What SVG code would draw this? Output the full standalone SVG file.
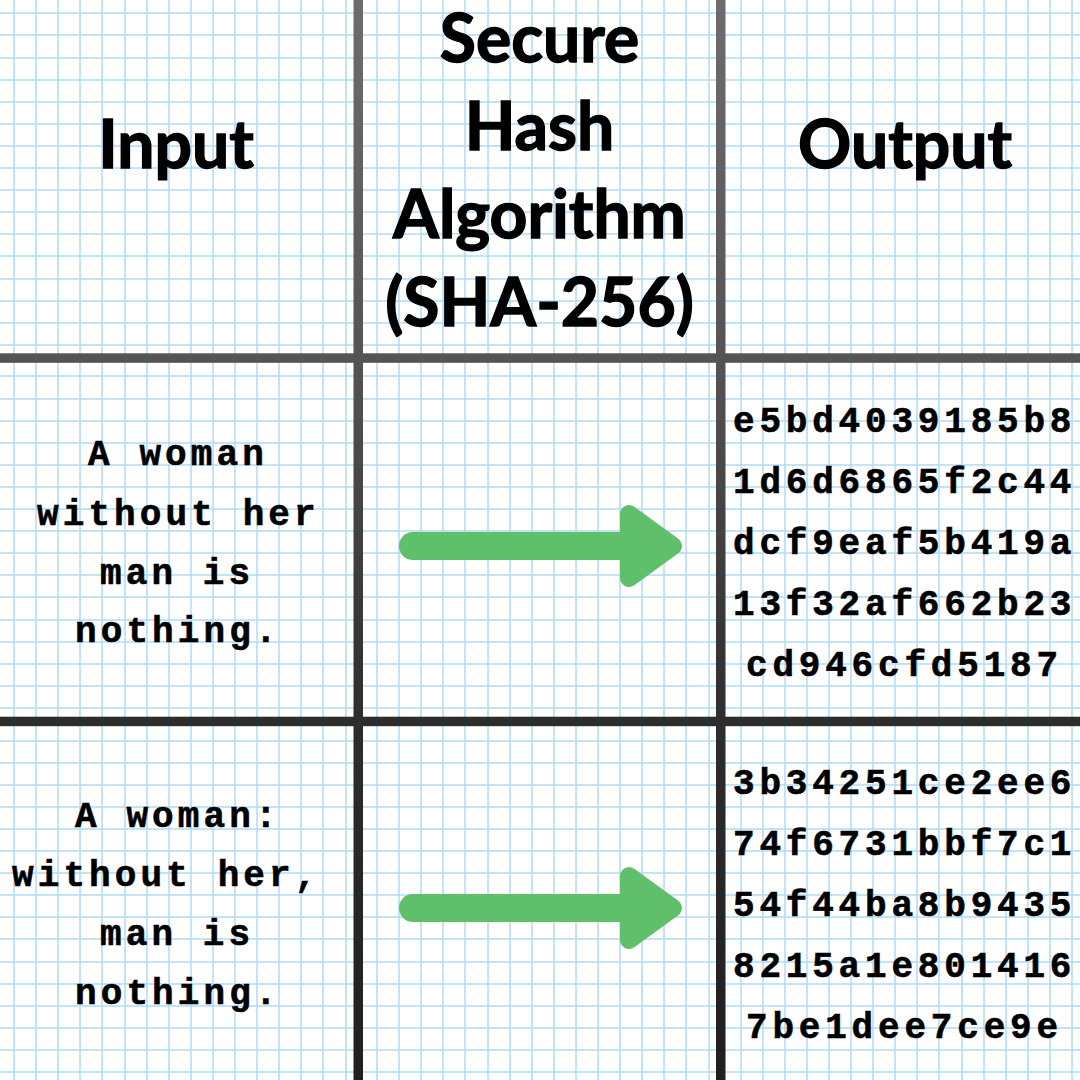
<svg xmlns="http://www.w3.org/2000/svg" width="1080" height="1080" viewBox="0 0 1080 1080">
  <style>
    .head { font-family: Lato, "Open Sans", "Liberation Sans", sans-serif; font-weight: 700; font-size: 66px; fill: #000; stroke: #000; stroke-width: 1.4px; text-anchor: middle; }
    .in { font-family: "Liberation Mono", "DejaVu Sans Mono", monospace; font-weight: 700; font-size: 36px; letter-spacing: 4.1px; fill: #000; stroke: #000; stroke-width: 0.6px; }
    .hash { font-family: "Liberation Mono", "DejaVu Sans Mono", monospace; font-weight: 700; font-size: 36px; letter-spacing: 4.8px; fill: #000; stroke: #000; stroke-width: 0.6px; }
    .gl { fill: none; stroke: #b0dcf6; stroke-width: 1.5; }
    .arrow { fill: #5fbf6a; }
    .arrowhead { fill: #5fbf6a; stroke: #5fbf6a; stroke-width: 18; stroke-linejoin: round; }
    .divider { fill: url(#divGrad); }
  </style>
  <defs>
    <linearGradient id="divGrad" gradientUnits="userSpaceOnUse" x1="0" y1="0" x2="0" y2="1080">
      <stop offset="0" stop-color="#6e6c6c"/>
      <stop offset="0.33" stop-color="#555353"/>
      <stop offset="0.67" stop-color="#2e2d2d"/>
      <stop offset="1" stop-color="#1f1f1f"/>
    </linearGradient>
  </defs>

  <rect x="0" y="0" width="1080" height="1080" fill="#ffffff"/>

  <g id="grid">
    <path class="gl" d="M14 0V1080M36 0V1080M58 0V1080M80 0V1080M102 0V1080M125 0V1080M147 0V1080M169 0V1080M191 0V1080M213 0V1080M235 0V1080M257 0V1080M279 0V1080M301 0V1080M323 0V1080M346 0V1080"/>
    <path class="gl" d="M377 0V1080M399 0V1080M421 0V1080M443 0V1080M465 0V1080M488 0V1080M510 0V1080M532 0V1080M554 0V1080M576 0V1080M598 0V1080M620 0V1080M642 0V1080M664 0V1080M686 0V1080M709 0V1080"/>
    <path class="gl" d="M741 0V1080M763 0V1080M785 0V1080M807 0V1080M829 0V1080M851 0V1080M873 0V1080M895 0V1080M917 0V1080M939 0V1080M962 0V1080M984 0V1080M1006 0V1080M1028 0V1080M1050 0V1080M1072 0V1080"/>
    <path class="gl" d="M0 13H1080M0 35H1080M0 58H1080M0 80H1080M0 102H1080M0 124H1080M0 146H1080M0 168H1080M0 190H1080M0 212H1080M0 234H1080M0 256H1080M0 279H1080M0 301H1080M0 323H1080M0 345H1080"/>
    <path class="gl" d="M0 376H1080M0 399H1080M0 421H1080M0 443H1080M0 465H1080M0 487H1080M0 509H1080M0 531H1080M0 553H1080M0 575H1080M0 597H1080M0 620H1080M0 642H1080M0 664H1080M0 686H1080M0 708H1080"/>
    <path class="gl" d="M0 741H1080M0 763H1080M0 785H1080M0 807H1080M0 829H1080M0 851H1080M0 873H1080M0 895H1080M0 917H1080M0 939H1080M0 962H1080M0 984H1080M0 1006H1080M0 1028H1080M0 1050H1080M0 1072H1080"/>
  </g>

  <g id="dividers">
    <rect class="divider" x="353.5" y="0" width="9.5" height="1080"/>
    <rect class="divider" x="716" y="0" width="9.5" height="1080"/>
    <rect class="divider" x="0" y="353.3" width="1080" height="9.5"/>
    <rect class="divider" x="0" y="716.7" width="1080" height="9.5"/>
  </g>

  <g id="header-input">
    <text class="head" x="176" y="168">Input</text>
  </g>
  <g id="header-algorithm">
    <text class="head" x="539.5" y="62">Secure</text>
    <text class="head" x="539.5" y="150">Hash</text>
    <text class="head" x="539.5" y="238">Algorithm</text>
    <text class="head" x="539.5" y="326">(SHA-256)</text>
  </g>
  <g id="header-output">
    <text class="head" x="905" y="168">Output</text>
  </g>

  <g id="input-1">
    <text class="in" x="88" y="465">A woman</text>
    <text class="in" x="37" y="525">without her</text>
    <text class="in" x="100" y="584">man is</text>
    <text class="in" x="75" y="642">nothing.</text>
  </g>
  <g id="input-2">
    <text class="in" x="75" y="827">A woman:</text>
    <text class="in" x="12" y="886">without her,</text>
    <text class="in" x="100" y="945">man is</text>
    <text class="in" x="75" y="1004">nothing.</text>
  </g>

  <g id="output-1">
    <text class="hash" x="733" y="432">e5bd4039185b8</text>
    <text class="hash" x="733" y="493">1d6d6865f2c44</text>
    <text class="hash" x="733" y="554">dcf9eaf5b419a</text>
    <text class="hash" x="733" y="615">13f32af662b23</text>
    <text class="hash" x="746" y="676">cd946cfd5187</text>
  </g>
  <g id="output-2">
    <text class="hash" x="733" y="794">3b34251ce2ee6</text>
    <text class="hash" x="733" y="855">74f6731bbf7c1</text>
    <text class="hash" x="733" y="916">54f44ba8b9435</text>
    <text class="hash" x="733" y="977">8215a1e801416</text>
    <text class="hash" x="746" y="1038">7be1dee7ce9e</text>
  </g>

  <g id="connectors">
    <g id="arrow-1">
      <rect class="arrow" x="399" y="532" width="245" height="28" rx="14"/>
      <polygon class="arrowhead" points="629,514 673,546 629,578"/>
    </g>
    <g id="arrow-2">
      <rect class="arrow" x="399" y="894" width="245" height="28" rx="14"/>
      <polygon class="arrowhead" points="629,876 673,908 629,940"/>
    </g>
  </g>
</svg>
